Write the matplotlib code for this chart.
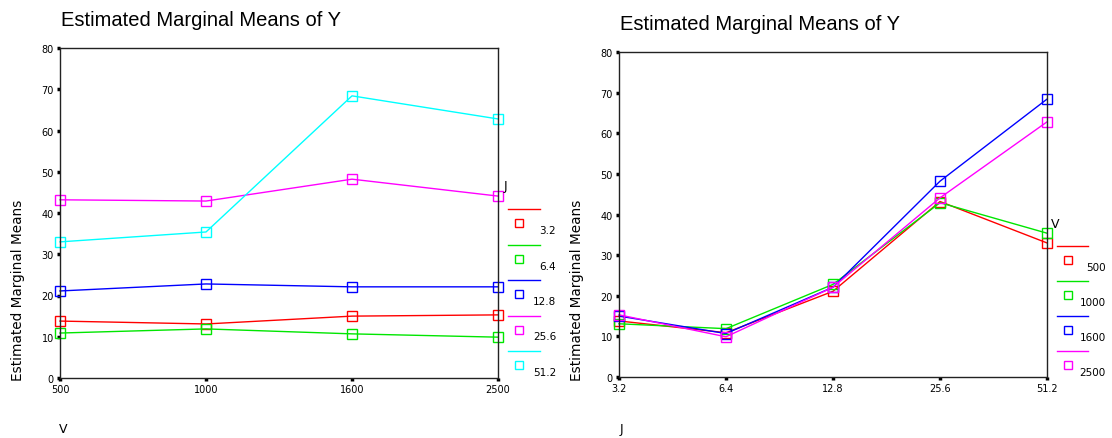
import matplotlib

matplotlib.use("Agg")

import matplotlib.pyplot as plt
from matplotlib.lines import Line2D

# factor levels
V_LEVELS = ["500", "1000", "1600", "2500"]
J_LEVELS = ["3.2", "6.4", "12.8", "25.6", "51.2"]

# estimated marginal means, one list per J level, ordered by V
MEAN_J32 = [13.8, 13.1, 15.0, 15.3]
MEAN_J64 = [10.9, 11.9, 10.7, 9.9]
MEAN_J128 = [21.1, 22.8, 22.1, 22.1]
MEAN_J256 = [43.2, 42.9, 48.2, 44.1]
MEAN_J512 = [33.0, 35.4, 68.4, 62.8]

Y_TICKS = [0, 10, 20, 30, 40, 50, 60, 70, 80]

J_COLORS = ["#ff0000", "#00e600", "#0000ff", "#ff00ff", "#00ffff"]
V_COLORS = ["#ff0000", "#00e600", "#0000ff", "#ff00ff"]

W, H = 1112, 439
TITLE = "Estimated Marginal Means of Y"
YLABEL = "Estimated Marginal Means"

plt.rcParams.update({"font.family": "DejaVu Sans"})


def fx(x):
    return x / W


def fy(y):
    return 1 - y / H


def style_axis(ax, xlabels):
    for side in ("left", "bottom", "top", "right"):
        ax.spines[side].set_color("#222222")
        ax.spines[side].set_linewidth(1.0)
    ax.set_ylim(0, 80)
    ax.set_yticks(Y_TICKS)
    ax.set_xlim(0, len(xlabels) - 1)
    ax.set_xticks(range(len(xlabels)))
    ax.set_xticklabels(xlabels)
    ax.tick_params(direction="out", length=2.5, width=2.5, labelsize=7, pad=2, color="black")


def draw_legend(fig, title, title_xy, labels, colors, line_x, first_y, step, marker_x, label_x):
    fig.text(fx(title_xy[0]), fy(title_xy[1]), title, fontsize=9, ha="left", va="center")
    for i, (lab, col) in enumerate(zip(labels, colors)):
        y = first_y + i * step
        fig.add_artist(Line2D([fx(line_x[0]), fx(line_x[1])], [fy(y), fy(y)],
                              transform=fig.transFigure, color=col, lw=1.0))
        fig.add_artist(Line2D([fx(marker_x)], [fy(y + 14)], transform=fig.transFigure,
                              marker="s", markersize=6, markerfacecolor="none",
                              markeredgecolor=col, markeredgewidth=1.0, linestyle="none"))
        fig.text(fx(label_x), fy(y + 21), lab, fontsize=7.5, ha="right", va="center")


series_j = [MEAN_J32, MEAN_J64, MEAN_J128, MEAN_J256, MEAN_J512]

fig = plt.figure(figsize=(W / 100, H / 100), dpi=100)
fig.patch.set_facecolor("white")

# left panel: lines per J across V
ax1 = fig.add_axes([fx(60), fy(379), fx(498) - fx(60), fy(49) - fy(379)])
for vals, col in zip(series_j, J_COLORS):
    ax1.plot(range(len(V_LEVELS)), vals, color=col, lw=1.0, marker="s", markersize=6.5,
             markerfacecolor="none", markeredgewidth=1.0, clip_on=False)
style_axis(ax1, V_LEVELS)
fig.text(fx(61), fy(21), TITLE, fontsize=14.5, family="Liberation Sans", ha="left", va="center")
fig.text(fx(18), fy(290), YLABEL, fontsize=9.8, rotation=90, ha="center", va="center")
fig.text(fx(63), fy(430), "V", fontsize=9, ha="center", va="center")
draw_legend(fig, "J", (504, 187), J_LEVELS, J_COLORS, (508, 540), 210, 35.5, 519, 556)

# right panel: lines per V across J
ax2 = fig.add_axes([fx(619), fy(378), fx(1047) - fx(619), fy(53) - fy(378)])
for k, col in enumerate(V_COLORS):
    vals = [s[k] for s in series_j]
    ax2.plot(range(len(J_LEVELS)), vals, color=col, lw=1.0, marker="s", markersize=6.5,
             markerfacecolor="none", markeredgewidth=1.0, clip_on=False)
style_axis(ax2, J_LEVELS)
fig.text(fx(620), fy(25), TITLE, fontsize=14.5, family="Liberation Sans", ha="left", va="center")
fig.text(fx(577), fy(290), YLABEL, fontsize=9.8, rotation=90, ha="center", va="center")
fig.text(fx(621), fy(430), "J", fontsize=9, ha="center", va="center")
draw_legend(fig, "V", (1051, 225), V_LEVELS, V_COLORS, (1057, 1088), 247, 35, 1068, 1106)

fig.savefig("out.png", dpi=100)
